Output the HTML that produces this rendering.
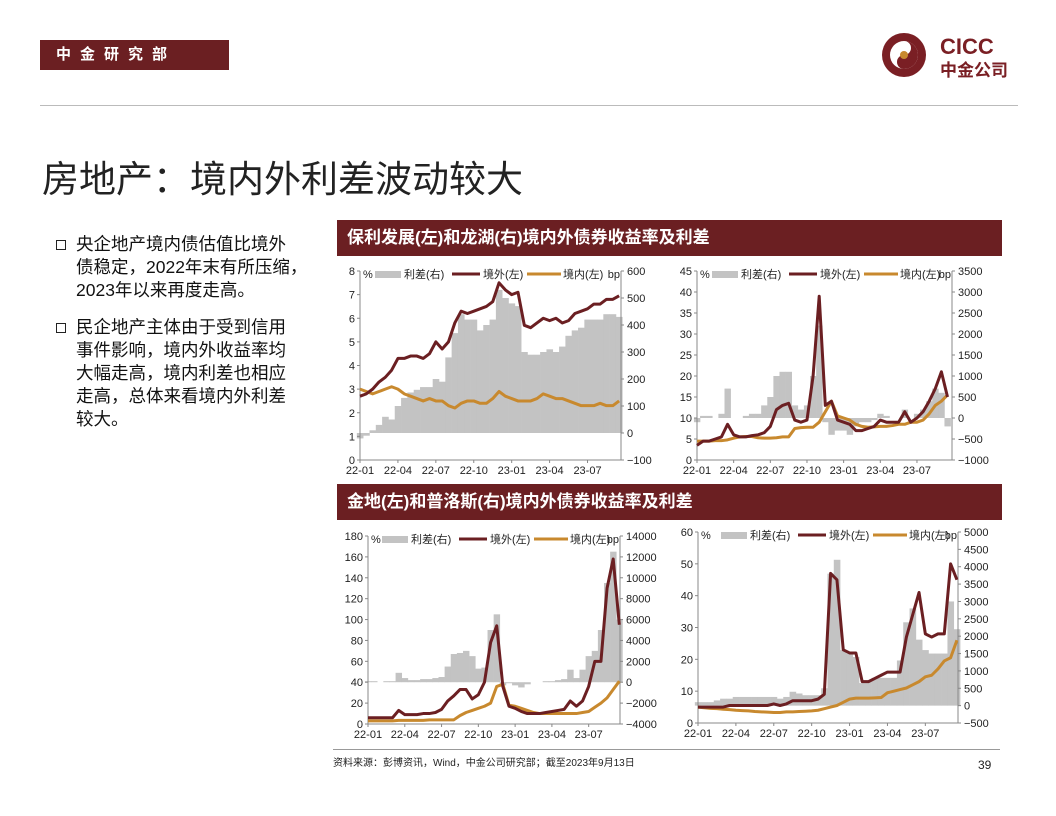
<!DOCTYPE html>
<html><head><meta charset="utf-8">
<style>
body{margin:0;background:#fff;}
#page{position:relative;width:1056px;height:816px;overflow:hidden;background:#fff;font-family:"Liberation Sans","Noto Sans CJK SC",sans-serif;}
.abs{position:absolute;}
.bar{background:#6b1f22;color:#fff;font-weight:bold;font-size:17px;line-height:36px;padding-left:10px;box-sizing:border-box;}
.bl{font-size:17.5px;line-height:23px;color:#111;}
.sq{width:8px;height:8px;border:1.5px solid #222;}
</style></head>
<body>
<div id="page">
  <div class="abs" style="left:40px;top:40px;width:189px;height:30px;background:#6b1f22;color:#fff;font-size:15px;font-weight:bold;line-height:30px;padding-left:16px;box-sizing:border-box;letter-spacing:9px;">中金研究部</div>
  <svg class="abs" style="left:880px;top:30px" width="140" height="52">
    <circle cx="24" cy="25" r="22" fill="#7a1f24"/>
    <circle cx="24" cy="25" r="14" fill="#fff"/>
    <path d="M24 11 A14 14 0 0 1 24 39 A7 7 0 0 1 24 25 A7 7 0 0 0 24 11Z" fill="#7a1f24"/>
    <circle cx="24" cy="25" r="4" fill="#c8892e"/>
    <text x="60" y="24" font-size="22" font-weight="bold" fill="#7a1f24" font-family="Liberation Sans,sans-serif">CICC</text>
    <text x="60" y="46" font-size="17" font-weight="bold" fill="#7a1f24" font-family="Liberation Sans,Noto Sans CJK SC,sans-serif">中金公司</text>
  </svg>
  <div class="abs" style="left:40px;top:105px;width:978px;height:1px;background:#bbb"></div>
  <div class="abs" style="left:42px;top:158px;font-size:37px;color:#222;line-height:44px;">房地产：境内外利差波动较大</div>

  <div class="abs sq" style="left:56px;top:240px"></div>
  <div class="abs bl" style="left:76px;top:233px;width:260px">央企地产境内债估值比境外<br>债稳定，2022年末有所压缩，<br>2023年以来再度走高。</div>
  <div class="abs sq" style="left:56px;top:323px"></div>
  <div class="abs bl" style="left:76px;top:316px;width:260px">民企地产主体由于受到信用<br>事件影响，境内外收益率均<br>大幅走高，境内利差也相应<br>走高，总体来看境内外利差<br>较大。</div>

  <div class="abs bar" style="left:337px;top:220px;width:665px;height:36px">保利发展(左)和龙湖(右)境内外债券收益率及利差</div>
  <div class="abs bar" style="left:337px;top:484px;width:665px;height:36px">金地(左)和普洛斯(右)境内外债券收益率及利差</div>

  <div class="abs" style="left:333px;top:749px;width:667px;height:1px;background:#999"></div>
  <div class="abs" style="left:333px;top:754px;font-size:10px;color:#222">资料来源：彭博资讯，Wind，中金公司研究部；截至2023年9月13日</div>
  <div class="abs" style="left:978px;top:758px;font-size:12px;color:#222">39</div>

  <svg id="charts" class="abs" style="left:0;top:0" width="1056" height="816"></svg>
</div>
<script>
const xTickLabels = ["22-01","22-04","22-07","22-10","23-01","23-04","23-07"];
const xTickMonths = [0,3,6,9,12,15,18];
const polyOuter = [2.7,2.8,3.0,3.3,3.5,3.8,4.3,4.3,4.4,4.4,4.3,4.5,5.0,4.7,5.0,5.8,6.3,6.2,6.3,6.4,6.5,6.7,7.5,7.2,7.0,7.1,5.7,5.6,5.8,6.0,5.9,6.0,5.8,5.9,6.2,6.3,6.4,6.6,6.6,6.8,6.8,6.95];
const polyInner = [3.0,2.9,2.8,2.9,3.0,3.1,3.0,2.8,2.7,2.6,2.5,2.6,2.5,2.5,2.3,2.2,2.4,2.5,2.5,2.4,2.4,2.6,2.9,2.7,2.6,2.5,2.5,2.5,2.6,2.8,2.7,2.6,2.6,2.5,2.4,2.3,2.3,2.3,2.4,2.3,2.3,2.5];
const polySpread = [-20,-10,10,30,60,50,100,130,150,160,170,170,200,190,280,370,440,420,420,380,400,420,530,500,480,470,300,290,290,300,310,300,320,360,380,390,420,420,420,440,440,430];
const longforOuter = [3.5,4.5,4.5,5,5.5,8.5,6,5.5,5.5,5.8,6,6.5,8,12,13,13.5,9.5,9,9.5,20,39,13,14,9.5,9,8.5,7,7,7.5,8,9.5,9,9,9,11.5,9,10,11.5,14,17,21,15];
const longforInner = [4.5,4.5,4.5,4.6,4.6,4.8,5.2,5.5,5.6,5.6,5.3,5.2,5.2,5.3,5.5,5.5,7.5,7.7,7.8,7.8,9,11.5,14,10.5,10,9.5,8.5,8,7.8,7.9,8,8,8.2,8.5,8.5,9,9,9.5,11,13,14,15.5];
const longforSpread = [-100,50,50,0,100,700,0,0,50,100,100,300,500,1000,1100,1100,300,200,300,1000,2200,-100,-400,-300,-300,-400,-200,-100,-100,-50,100,50,0,0,200,0,100,200,400,700,600,-200];
const gemdaleOuter = [6,6,6,6,6,13,9,9,9,10,10,11,14,22,27,33,33,24,28,40,78,94,36,17,15,12,10,10,10,11,12,13,14,22,17,22,36,60,60,130,158,95];
const gemdaleInner = [3,3,3,3,3,3.5,3.5,3.5,3.5,3.5,4,4,4,4,4,8,11,13,15,17,20,36,38,18,17,15,13,11,10,10,10,10,10,10,10,11,12,16,20,25,33,41];
const gemdaleSpread = [100,100,0,100,100,900,400,200,200,300,300,400,500,1500,2700,2800,3000,2500,1300,1400,5000,6500,-300,-100,-300,-500,-200,0,0,100,100,200,300,1200,400,1200,2500,3000,5000,9500,12500,6000];
const glpOuter = [5,5,5,5,5,5.5,5.5,5.5,5.5,5.5,5.5,5.5,6,5.5,6,7,7,7,7,7.5,9,47,45,23,22,22,13,13,14,15,16,16,16,27,34,41,28,27,28,28,50,45];
const glpInner = [5,4.8,4.6,4.5,4.3,4.2,4,3.9,3.8,3.6,3.5,3.4,3.3,3.3,3.5,3.5,3.6,3.7,3.8,4,4.5,5,5.5,6.5,7.5,7.8,7.8,7.8,7.9,8,9.5,10,10.5,11,12,13,14.5,15,17,19.5,20.5,26];
const glpSpread = [100,100,100,150,200,200,250,250,250,250,250,250,250,200,250,400,350,300,300,300,500,3800,4200,1600,1500,1400,650,700,800,800,800,800,1300,2400,2800,1900,1600,1500,1500,1500,3000,2200];
const polyLeftTicks = [0,1,2,3,4,5,6,7,8];
const polyRightTicks = [-100,0,100,200,300,400,500,600];
const longforLeftTicks = [0,5,10,15,20,25,30,35,40,45];
const longforRightTicks = [-1000,-500,0,500,1000,1500,2000,2500,3000,3500];
const gemdaleLeftTicks = [0,20,40,60,80,100,120,140,160,180];
const gemdaleRightTicks = [-4000,-2000,0,2000,4000,6000,8000,10000,12000,14000];
const glpLeftTicks = [0,10,20,30,40,50,60];
const glpRightTicks = [-500,0,500,1000,1500,2000,2500,3000,3500,4000,4500,5000];

const NS = "http://www.w3.org/2000/svg";
const svg = document.getElementById("charts");
function mk(tag, attrs, parent){
  const e = document.createElementNS(NS, tag);
  for (const k in attrs) e.setAttribute(k, attrs[k]);
  (parent||svg).appendChild(e);
  return e;
}
function drawChart(name, box, outer, inner, spread, lt, rt){
  const g = mk("g", {});
  
  
  const lMin = lt[0], lMax = lt[lt.length-1], rMin = rt[0], rMax = rt[rt.length-1];
  const X = t => box.x0 + t*box.mpx;
  const YL = v => box.yb - (v-lMin)/(lMax-lMin)*(box.yb-box.yt);
  const YR = v => box.yb - (v-rMin)/(rMax-rMin)*(box.yb-box.yt);
  const fs = 11;
  const bw = box.mpx*0.5;
  const barsG = mk("g", {}, g);
  
  
  spread.forEach((v,i)=>{
    const x = X(i*0.5), y0 = YR(0), y1 = YR(v);
    const r = mk("rect", {x:x-bw/2, y:Math.min(y0,y1), width:bw+0.3, height:Math.abs(y1-y0), fill:"#c3c3c3"}, barsG);
    
    
  });
  const ax = mk("path", {d:`M${box.x0} ${box.yt}V${box.yb}H${box.x1}V${box.yt}`, fill:"none", stroke:"#888", "stroke-width":1}, g);
  
  
  lt.forEach(v=>{
    mk("line",{x1:box.x0-3,x2:box.x0,y1:YL(v),y2:YL(v),stroke:"#888"},g);
    const t = mk("text",{x:box.x0-5,y:YL(v)+4,"font-size":fs,"text-anchor":"end",fill:"#222"},g);
    t.textContent = v;
    
    
  });
  rt.forEach(v=>{
    mk("line",{x1:box.x1,x2:box.x1+3,y1:YR(v),y2:YR(v),stroke:"#888"},g);
    const t = mk("text",{x:box.x1+6,y:YR(v)+4,"font-size":fs,fill:"#222"},g);
    t.textContent = (v<0?"\u2212"+(-v):v);
    
    
  });
  xTickMonths.forEach((m,i)=>{
    mk("line",{x1:X(m),x2:X(m),y1:box.yb,y2:box.yb+3,stroke:"#888"},g);
    const t = mk("text",{x:X(m),y:box.yb+14,"font-size":fs,"text-anchor":"middle",fill:"#222"},g);
    t.textContent = xTickLabels[i];
    
    
  });
  const line = (arr, col, nm) => {
    const p = mk("polyline",{points:arr.map((v,i)=>X(i*0.5)+","+YL(v)).join(" "),fill:"none",stroke:col,"stroke-width":3,"stroke-linejoin":"round"},g);
    
    
  };
  line(inner, "#c8892e", "onshore-yield-line");
  line(outer, "#6b1f22", "offshore-yield-line");
  const ly = box.yt + 3;
  const L = mk("g",{},g);
  
  
  const tx = (x,s,anchor)=>{const t=mk("text",{x:x,y:ly+4,"font-size":fs,fill:"#222","text-anchor":anchor||"start"},L);t.textContent=s;return t;};
  tx(box.x0+3,"%");
  const lx = box.x0 + box.legOff;
  mk("rect",{x:lx,y:ly-3,width:26,height:7,fill:"#c3c3c3"},L);
  tx(lx+29,"利差(右)");
  mk("line",{x1:lx+77,x2:lx+105,y1:ly,y2:ly,stroke:"#6b1f22","stroke-width":3},L);
  tx(lx+108,"境外(左)");
  mk("line",{x1:lx+152,x2:lx+186,y1:ly,y2:ly,stroke:"#c8892e","stroke-width":3},L);
  tx(lx+188,"境内(左)");
  tx(box.x1-1,"bp","end");
}
drawChart("chart-poly", {x0:360,x1:621,yt:271,yb:460,mpx:12.64,legOff:15}, polyOuter, polyInner, polySpread, polyLeftTicks, polyRightTicks);
drawChart("chart-longfor", {x0:697,x1:952,yt:271,yb:460,mpx:12.22,legOff:15}, longforOuter, longforInner, longforSpread, longforLeftTicks, longforRightTicks);
drawChart("chart-gemdale", {x0:368,x1:620,yt:536,yb:724,mpx:12.26,legOff:14}, gemdaleOuter, gemdaleInner, gemdaleSpread, gemdaleLeftTicks, gemdaleRightTicks);
drawChart("chart-glp", {x0:698,x1:958,yt:532,yb:723,mpx:12.63,legOff:23}, glpOuter, glpInner, glpSpread, glpLeftTicks, glpRightTicks);
</script>
</body></html>
